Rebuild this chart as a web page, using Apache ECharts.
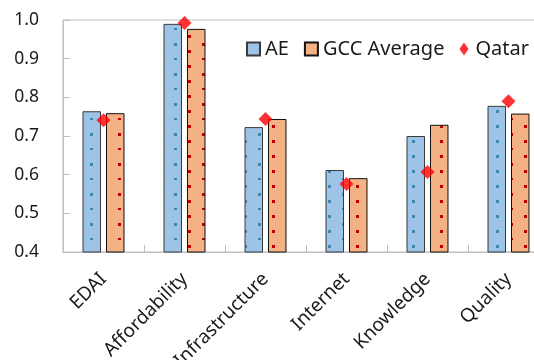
<!DOCTYPE html>
<html>
<head>
<meta charset="utf-8">
<script src="https://cdn.jsdelivr.net/npm/echarts@6/dist/echarts.min.js"></script>
<style>html,body{margin:0;padding:0;background:#fff}#c{width:534px;height:360px}</style>
</head>
<body>
<div id="c"></div>
<script>
const categories = ['EDAI', 'Affordability', 'Infrastructure', 'Internet', 'Knowledge', 'Quality'];
const aeValues = [0.764, 0.990, 0.723, 0.612, 0.700, 0.778];
const gccValues = [0.759, 0.977, 0.744, 0.591, 0.729, 0.758];
const qatarValues = [0.741, 0.992, 0.744, 0.576, 0.607, 0.790];
const yTicks = [0.4, 0.5, 0.6, 0.7, 0.8, 0.9, 1.0];

function makePattern(bg, dot) {
  const c = document.createElement('canvas');
  c.width = 28; c.height = 30;
  const g = c.getContext('2d');
  g.fillStyle = bg; g.fillRect(0, 0, 28, 30);
  g.fillStyle = dot;
  const pts = [[6, 13], [6, 28], [20, 5], [20, 20]];
  pts.forEach(p => g.fillRect(p[0], p[1] % 30, 3, 3));
  return { image: c, repeat: 'repeat' };
}
const bluePat = makePattern('#9dc3e6', '#3f86ab');
const orangePat = makePattern('#f4b183', '#c00000');

const font = 'Noto Sans';
const chart = echarts.init(document.getElementById('c'), null, { renderer: 'canvas' });
chart.setOption({
  animation: false,
  backgroundColor: '#ffffff',
  textStyle: { fontFamily: font },
  grid: { left: 63, top: 20, width: 486, bottom: 108, show: true, borderColor: '#bfbfbf', borderWidth: 1,
          backgroundColor: 'transparent', outerBoundsMode: 'none', containLabel: false },
  legend: {
    left: 246, top: 38, width: 340, orient: 'horizontal', padding: 0,
    itemWidth: 13, itemHeight: 13, itemGap: 15,
    textStyle: { fontFamily: font, fontSize: 20, lineHeight: 22, color: '#1a1a1a' },
    data: [
      { name: 'AE', icon: 'rect' },
      { name: 'GCC Average', icon: 'rect' },
      { name: 'Qatar', icon: 'path://M0,6L4.2,0L8.4,6L4.2,12Z' }
    ]
  },
  xAxis: {
    type: 'category', data: categories,
    axisLine: { lineStyle: { color: '#bfbfbf', width: 1 } },
    axisTick: { show: true, inside: true, length: 7, lineStyle: { color: '#bfbfbf' } },
    axisLabel: { rotate: 45, fontSize: 19, color: '#1a1a1a', fontFamily: font, margin: 24,
                 padding: [20, 0, 0, 0], interval: 0 }
  },
  yAxis: {
    type: 'value', min: 0.4, max: 1.0, interval: 0.1,
    axisLine: { show: true, lineStyle: { color: '#bfbfbf', width: 1 } },
    axisTick: { show: true, inside: true, length: 7, lineStyle: { color: '#bfbfbf' } },
    splitLine: { show: false },
    axisLabel: { fontSize: 17.5, color: '#1a1a1a', fontFamily: font, margin: 24, formatter: v => v.toFixed(1) }
  },
  series: [
    { name: 'AE', type: 'bar', data: aeValues, barWidth: 18.5, barGap: '27%',
      itemStyle: { color: bluePat, borderColor: '#3a3a3a', borderWidth: 1 } },
    { name: 'GCC Average', type: 'bar', data: gccValues, barWidth: 18.5, barGap: '27%',
      itemStyle: { color: orangePat, borderColor: '#111111', borderWidth: 1 } },
    { name: 'Qatar', type: 'scatter', data: qatarValues, symbol: 'diamond', symbolSize: [14, 14],
      itemStyle: { color: '#ff0000' }, z: 5 }
  ]
});
</script>
</body>
</html>
